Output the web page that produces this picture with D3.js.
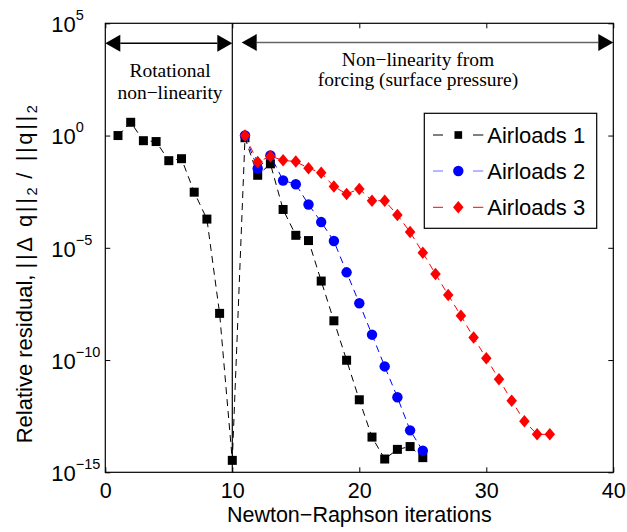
<!DOCTYPE html>
<html>
<head>
<meta charset="utf-8">
<script src="https://cdn.jsdelivr.net/npm/d3@7"></script>
<style>
  html, body { margin: 0; padding: 0; background: #fff; }
  svg { display: block; }
  text { font-family: "Liberation Sans", Arial, Helvetica, sans-serif; }
  .serif { font-family: "Liberation Serif", "Times New Roman", serif; }
</style>
</head>
<body>
<svg id="chart" width="627" height="532"></svg>
<script>
// Newton–Raphson convergence history for three load cases
const iterations1 = [1,2,3,4,5,6,7,8,9,10,11,12,13,14,15,16,17,18,19,20,21,22,23,24,25];
const residual1 = [1.0e0,3.9e0,5.9e-1,5.4e-1,7.6e-2,9.3e-2,3.0e-3,1.9e-4,1.2e-8,3.4e-15,
                   8.0e-1,1.7e-2,5.5e-2,5.1e-4,3.6e-5,2.1e-5,3.3e-7,5.6e-9,9.8e-11,1.7e-12,
                   3.7e-14,3.9e-15,1.05e-14,1.4e-14,4.5e-15];

const iterations2 = [11,12,13,14,15,16,17,18,19,20,21,22,23,24,25];
const residual2 = [1.0e0,3.4e-2,1.3e-1,1.0e-2,6.8e-3,8.5e-4,1.4e-4,2.0e-5,8.1e-7,3.4e-8,
                   1.35e-9,5.2e-11,2.2e-12,7.4e-14,9.1e-15];

const iterations3 = [11,12,13,14,15,16,17,18,19,20,21,22,23,24,25,26,27,28,29,30,31,32,33,34,35];
const residual3 = [1.0e0,6.6e-2,1.2e-1,7.9e-2,6.9e-2,3.5e-2,2.2e-2,5.4e-3,2.5e-3,4.2e-3,
                   1.26e-3,1.26e-3,2.9e-4,5.0e-5,6.0e-6,6.8e-7,7.9e-8,9.5e-9,1.0e-9,1.2e-10,
                   1.4e-11,1.55e-12,1.9e-13,4.9e-14,4.9e-14];

const seriesNames = ["Airloads 1", "Airloads 2", "Airloads 3"];
const xTicks = [0, 10, 20, 30, 40];
const yTicks = [1e5, 1e0, 1e-5, 1e-10, 1e-15];
const phaseBoundary = 10;

const svg = d3.select("#chart");
const L = 105.3, R = 613.3, T = 23.3, B = 472.3;
const FS = 22;

const x = d3.scaleLinear().domain([0, 40]).range([L, R]);
const y = d3.scaleLog().domain([1e-15, 1e5]).range([B, T]);

// Axes (ticks point inward, mirrored on top/right)
const gx = svg.append("g").attr("transform", `translate(0,${B})`)
  .call(d3.axisBottom(x).tickValues(xTicks).tickSizeInner(-5).tickSizeOuter(0).tickPadding(0));
gx.selectAll("text").attr("y", 25.5).attr("dy", 0).attr("font-size", 21.5)
  .attr("fill", "#000").style("font-family", "Liberation Sans, Arial, sans-serif");

svg.append("g").attr("transform", `translate(0,${T})`)
  .call(d3.axisTop(x).tickValues(xTicks).tickSizeInner(-5).tickSizeOuter(0).tickFormat(""));

const gy = svg.append("g").attr("transform", `translate(${L},0)`)
  .call(d3.axisLeft(y).tickValues(yTicks).tickSizeInner(-5).tickSizeOuter(0).tickFormat(""));
gy.selectAll(".tick").each(function(d) {
  const e = Math.round(Math.log10(d));
  const t = d3.select(this).append("text")
    .attr("x", 51.2 - L).attr("y", 8.3).attr("text-anchor", "start")
    .attr("fill", "#000").attr("font-size", FS);
  t.append("tspan").text("10");
  t.append("tspan").attr("font-size", 14.5).attr("dy", -12)
    .text(e < 0 ? "\u2212" + Math.abs(e) : String(e));
});

svg.append("g").attr("transform", `translate(${R},0)`)
  .call(d3.axisRight(y).tickValues(yTicks).tickSizeInner(-5).tickSizeOuter(0).tickFormat(""));

svg.selectAll(".domain").remove();
svg.selectAll(".tick line").attr("stroke", "#000").attr("stroke-width", 1);

// Frame
svg.append("rect").attr("x", L).attr("y", T).attr("width", R - L).attr("height", B - T)
  .attr("fill", "none").attr("stroke", "#000").attr("stroke-width", 1.2);

// Boundary between phases
svg.append("line").attr("x1", x(phaseBoundary)).attr("x2", x(phaseBoundary))
  .attr("y1", T).attr("y2", B).attr("stroke", "#000").attr("stroke-width", 1.2);

// Double-headed arrows marking the two phases
function arrow(x1, x2, yy, lineColor) {
  const len = 15, hw = 8.5;
  svg.append("line").attr("x1", x1 + len).attr("x2", x2 - len).attr("y1", yy).attr("y2", yy)
    .attr("stroke", lineColor).attr("stroke-width", 1.5);
  svg.append("path").attr("d", `M${x1},${yy}L${x1 + len},${yy - hw}L${x1 + len},${yy + hw}Z`).attr("fill", "#000");
  svg.append("path").attr("d", `M${x2},${yy}L${x2 - len},${yy - hw}L${x2 - len},${yy + hw}Z`).attr("fill", "#000");
}
arrow(x(0), x(10), 43.3, "#000");
arrow(x(10.74), x(40), 42.5, "#666");

svg.append("text").attr("class", "serif").attr("x", 170).attr("y", 76.7)
  .attr("text-anchor", "middle").attr("font-size", 19.5).text("Rotational");
svg.append("text").attr("class", "serif").attr("x", 170).attr("y", 98.5)
  .attr("text-anchor", "middle").attr("font-size", 19.5).text("non\u2212linearity");
svg.append("text").attr("class", "serif").attr("x", 418).attr("y", 65.7)
  .attr("text-anchor", "middle").attr("font-size", 19.5).text("Non\u2212linearity from");
svg.append("text").attr("class", "serif").attr("x", 418).attr("y", 86)
  .attr("text-anchor", "middle").attr("font-size", 19.5).text("forcing (surface pressure)");

// Marker shapes
function diamondPath(w, h) { return `M0,${-h/2}L${w/2},0L0,${h/2}L${-w/2},0Z`; }
function markerPath(m, scale) {
  const k = scale || 1;
  if (m === "diamond") return diamondPath(10.5 * k, 12.5 * k);
  if (m === "square") return d3.symbol().type(d3.symbolSquare).size(81 * k * k)();
  return d3.symbol().type(d3.symbolCircle).size(85 * k * k)();
}

const series = [
  { name: seriesNames[0], xs: iterations1, ys: residual1, color: "#000", legendLine: "#000", marker: "square" },
  { name: seriesNames[1], xs: iterations2, ys: residual2, color: "#0000ff", legendLine: "#6f6fff", marker: "circle" },
  { name: seriesNames[2], xs: iterations3, ys: residual3, color: "#ff0000", legendLine: "#ff0000", marker: "diamond" },
];

const line = d3.line().x(d => x(d[0])).y(d => y(d[1]));
series.forEach(s => {
  const pts = s.xs.map((v, i) => [v, s.ys[i]]);
  const g = svg.append("g");
  g.append("path").attr("d", line(pts)).attr("fill", "none")
    .attr("stroke", s.color).attr("stroke-width", 1).attr("stroke-dasharray", "7,5");
  g.selectAll("path.m").data(pts).join("path").attr("class", "m")
    .attr("transform", d => `translate(${x(d[0])},${y(d[1])})`)
    .attr("d", markerPath(s.marker)).attr("fill", s.color);
});

// Legend
const lg = svg.append("g");
lg.append("rect").attr("x", 424.3).attr("y", 113.3).attr("width", 172.4).attr("height", 115)
  .attr("fill", "#fff").attr("stroke", "#000").attr("stroke-width", 1.2);
const rowY = [135, 171, 207.3];
series.forEach((s, i) => {
  const yy = rowY[i];
  lg.append("line").attr("x1", 433).attr("x2", 443).attr("y1", yy).attr("y2", yy)
    .attr("stroke", s.legendLine).attr("stroke-width", 1);
  lg.append("line").attr("x1", 473).attr("x2", 483.3).attr("y1", yy).attr("y2", yy)
    .attr("stroke", s.legendLine).attr("stroke-width", 1);
  lg.append("path").attr("transform", `translate(458.3,${yy})`)
    .attr("d", markerPath(s.marker, s.marker === "square" ? 0.85 : 1))
    .attr("fill", s.color);
  lg.append("text").attr("x", 487.3).attr("y", yy + 8).attr("font-size", FS).text(s.name);
});

// Axis titles
svg.append("text").attr("x", (L + R) / 2).attr("y", 522).attr("text-anchor", "middle")
  .attr("font-size", 21.5).text("Newton\u2212Raphson iterations");

const yl = svg.append("text").attr("transform", "translate(31.7,443.3) rotate(-90)")
  .attr("text-anchor", "start").attr("font-size", FS);
yl.append("tspan").text("Relative residual, ");
yl.append("tspan").attr("letter-spacing", 2.6).text("||\u0394 q||");
yl.append("tspan").attr("font-size", 14.5).attr("dy", 5).text("2");
yl.append("tspan").attr("dy", -5).attr("letter-spacing", 2.6).text(" / ||q||");
yl.append("tspan").attr("font-size", 14.5).attr("dy", 5).text("2");
</script>
</body>
</html>
